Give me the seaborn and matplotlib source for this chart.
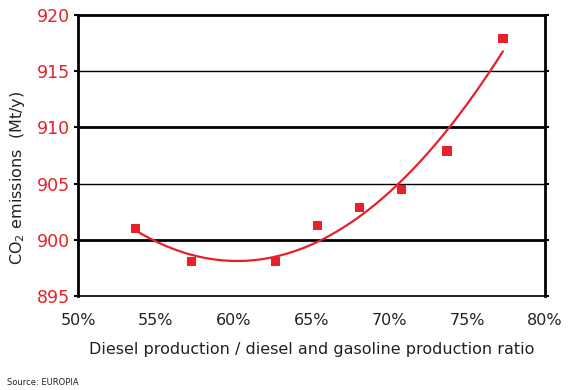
import pandas as pd
import matplotlib.pyplot as plt
import seaborn as sns
import numpy as np

# data
diesel_ratio = [53.7, 57.3, 62.7, 65.4, 68.1, 70.8, 73.7, 77.3]
co2_emissions = [901.0, 898.1, 898.1, 901.3, 902.9, 904.5, 907.9, 917.9]
x_ticks = [50, 55, 60, 65, 70, 75, 80]
y_ticks = [895, 900, 905, 910, 915, 920]

df = pd.DataFrame({'ratio': diesel_ratio, 'co2': co2_emissions})

sns.set_style('white')
plt.rcParams['font.family'] = ['DejaVu Sans']

fig = plt.figure(figsize=(5.75, 3.9), dpi=100)
ax = fig.add_axes([0.1357, 0.241, 0.812, 0.7205])

red = '#e8202a'

# horizontal grid lines (alternating thick/thin)
for y in y_ticks[1:-1]:
    lw = 2.0 if y % 10 == 0 else 1.0
    ax.axhline(y, color='black', lw=lw, zorder=1)

# quadratic trend line
sns.regplot(data=df, x='ratio', y='co2', order=2, ci=None, scatter=False,
            line_kws={'color': red, 'lw': 1.6}, ax=ax)

# data points
sns.scatterplot(data=df, x='ratio', y='co2', marker='s', s=45, color=red,
                edgecolor='none', zorder=3, ax=ax)

ax.set_xlim(50, 80)
ax.set_ylim(895, 920)
ax.set_xticks(x_ticks)
ax.set_xticklabels([f'{t}%' for t in x_ticks], fontsize=11.5, color='#222222')
ax.set_yticks(y_ticks)
ax.set_yticklabels([str(t) for t in y_ticks], fontsize=12.5, color=red)
ax.tick_params(axis='both', direction='out', length=3, width=1.5, color='black')
ax.tick_params(axis='x', pad=9)
ax.tick_params(axis='y', right=True, left=True, pad=3)

for side in ['left', 'right', 'top']:
    ax.spines[side].set_linewidth(2.0)
    ax.spines[side].set_color('black')
ax.spines['bottom'].set_linewidth(1.2)
ax.spines['bottom'].set_color('black')

ax.set_xlabel('Diesel production / diesel and gasoline production ratio',
              fontsize=11.5, color='#222222', labelpad=10)
ax.set_ylabel('CO$_2$ emissions  (Mt/y)', fontsize=11.5, color='#222222')
ax.yaxis.set_label_coords(-0.11, 0.42)

fig.text(0.012, 0.012, 'Source: EUROPIA', fontsize=6, color='#222222')

plt.savefig('out.png', dpi=100)
